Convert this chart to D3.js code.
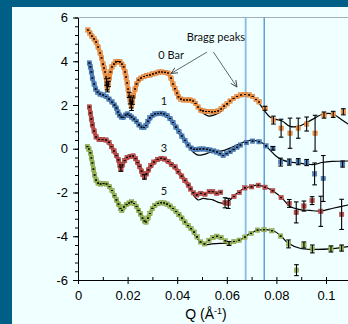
<!DOCTYPE html>
<html><head><meta charset="utf-8">
<script src="https://cdn.jsdelivr.net/npm/d3@7"></script>
<style>html,body{margin:0;padding:0;background:#005f87;overflow:hidden}</style>
</head><body><svg id="c" width="348" height="324"></svg>
<script>
// ---- tick labels / categories ----
const xTicks = [0, 0.02, 0.04, 0.06, 0.08, 0.1];
const xTickLabels = ["0", "0.02", "0.04", "0.06", "0.08", "0.1"];
const yTicks = [-6, -4, -2, 0, 2, 4, 6];
const yTickLabels = ["-6", "-4", "-2", "0", "2", "4", "6"];
const seriesNames = ["0 Bar", "1", "3", "5"];
const seriesColors = ["#F79646", "#4F81BD", "#C0504D", "#9BBB59"];
const braggPeaks = [0.0676, 0.0751];

// ---- series data: [Q, log I (offset), error] ----
const data0Bar = [[0.0040,5.43],[0.0048,5.29],[0.0056,5.15],[0.0065,5.02],[0.0073,4.88],[0.0081,4.65],[0.0089,4.38],[0.0095,4.15],[0.0101,3.87],[0.0105,3.69],[0.0109,3.51],[0.0113,3.28],[0.0115,3.05,0.15],[0.0117,2.87,0.18],[0.0119,2.78,0.18],[0.0123,2.96,0.12],[0.0127,3.23],[0.0131,3.51],[0.0137,3.74],[0.0145,3.87],[0.0153,3.97],[0.0161,3.99],[0.0169,3.97],[0.0177,3.87],[0.0184,3.74],[0.0190,3.51],[0.0194,3.28],[0.0198,3.01],[0.0202,2.73],[0.0206,2.46,0.12],[0.0210,2.23,0.18],[0.0214,2.05,0.18],[0.0216,1.95,0.2],[0.0220,2.18,0.15],[0.0224,2.41],[0.0230,2.73],[0.0236,2.96],[0.0244,3.14],[0.0254,3.23],[0.0266,3.30],[0.0278,3.35],[0.0290,3.37],[0.0302,3.42],[0.0315,3.46],[0.0327,3.51],[0.0339,3.51],[0.0351,3.49],[0.0363,3.46],[0.0375,3.23],[0.0383,2.96],[0.0391,2.75],[0.0399,2.55],[0.0405,2.37],[0.0415,2.27],[0.0427,2.23],[0.0440,2.23],[0.0452,2.23],[0.0464,2.18],[0.0474,2.07],[0.0484,1.91],[0.0494,1.77],[0.0504,1.73],[0.0516,1.70],[0.0528,1.70],[0.0540,1.68],[0.0552,1.70],[0.0565,1.73],[0.0577,1.82],[0.0589,1.95],[0.0601,2.05],[0.0613,2.18],[0.0627,2.30],[0.0641,2.39],[0.0657,2.46],[0.0673,2.48],[0.0690,2.46],[0.0704,2.39],[0.0718,2.25],[0.0730,2.14],[0.0754,1.85,0.09],[0.0788,1.31,0.18],[0.0819,0.94,0.41],[0.0855,0.71,0.69],[0.0888,0.94,0.46],[0.0922,1.13,0.32],[0.0956,0.71,0.82],[0.0992,1.54,0.14],[0.1029,1.57,0.14],[0.1070,1.69,0.14]];
const fit0Bar = [[0.0040,5.43],[0.0089,4.38],[0.0109,3.51],[0.0119,2.73],[0.0129,3.51],[0.0145,3.92],[0.0161,3.99],[0.0177,3.87],[0.0194,3.28],[0.0214,1.95],[0.0230,2.73],[0.0250,3.23],[0.0290,3.37],[0.0331,3.51],[0.0355,3.49],[0.0379,3.14],[0.0399,2.50],[0.0423,2.23],[0.0452,2.23],[0.0476,2.05],[0.0500,1.68],[0.0524,1.50],[0.0548,1.54],[0.0573,1.68],[0.0605,2.05],[0.0637,2.37],[0.0673,2.48],[0.0702,2.41],[0.0726,2.14],[0.0750,1.77],[0.0774,1.45],[0.0798,1.34],[0.0823,1.27],[0.0855,1.02],[0.0887,1.02],[0.0919,1.18],[0.0956,1.41],[0.0988,1.59],[0.1028,1.59],[0.1065,1.31],[0.1089,1.13]];

const data1Bar = [[0.0046,3.92],[0.0050,3.74],[0.0054,3.51],[0.0058,3.23],[0.0065,2.96],[0.0071,2.73],[0.0079,2.59],[0.0089,2.50],[0.0101,2.46],[0.0113,2.39],[0.0125,2.27],[0.0137,2.14],[0.0147,2.00],[0.0155,1.86],[0.0161,1.68],[0.0167,1.54],[0.0175,1.45],[0.0183,1.43],[0.0192,1.54],[0.0200,1.59],[0.0208,1.52],[0.0216,1.45],[0.0226,1.36],[0.0236,1.25],[0.0246,1.09],[0.0256,0.99],[0.0266,0.97],[0.0274,1.06],[0.0282,1.25],[0.0290,1.41],[0.0300,1.52],[0.0310,1.59],[0.0323,1.61],[0.0335,1.62],[0.0347,1.59],[0.0359,1.52],[0.0371,1.38],[0.0383,1.20],[0.0395,0.99],[0.0407,0.79],[0.0419,0.58],[0.0431,0.38],[0.0444,0.17],[0.0456,0.03],[0.0468,-0.03],[0.0480,-0.03],[0.0492,-0.01],[0.0506,-0.01],[0.0520,-0.03],[0.0532,-0.06],[0.0546,-0.10],[0.0560,-0.15],[0.0573,-0.22],[0.0585,-0.31],[0.0599,-0.22],[0.0613,-0.13],[0.0627,-0.03],[0.0641,0.07],[0.0655,0.17],[0.0679,0.28],[0.0704,0.35],[0.0730,0.32],[0.0758,0.13],[0.0786,0.02,0.08],[0.0817,-0.61,0.18],[0.0852,-0.61,0.14],[0.0888,-0.59,0.14],[0.0922,-0.63,0.14],[0.0954,-1.15,0.50],[0.0989,-1.36,1.05],[0.1067,-0.70,0.14]];
const fit1Bar = [[0.0046,3.92],[0.0058,3.23],[0.0077,2.64],[0.0101,2.46],[0.0129,2.23],[0.0153,1.91],[0.0169,1.50],[0.0185,1.43],[0.0198,1.59],[0.0214,1.45],[0.0238,1.22],[0.0262,0.97],[0.0282,1.25],[0.0306,1.59],[0.0335,1.63],[0.0363,1.50],[0.0391,1.04],[0.0419,0.58],[0.0444,0.13],[0.0464,-0.15],[0.0484,-0.29],[0.0508,-0.26],[0.0532,-0.17],[0.0556,-0.13],[0.0581,-0.10],[0.0613,0.03],[0.0653,0.24],[0.0694,0.38],[0.0726,0.35],[0.0750,0.22],[0.0774,-0.06],[0.0798,-0.33],[0.0823,-0.51],[0.0855,-0.61],[0.0887,-0.65],[0.0919,-0.70],[0.0952,-0.72],[0.0984,-0.63],[0.1024,-0.58],[0.1089,-0.56]];

const data3Bar = [[0.0046,1.91],[0.0050,1.63],[0.0054,1.36],[0.0058,1.09],[0.0065,0.81],[0.0073,0.54],[0.0085,0.42],[0.0099,0.42],[0.0113,0.40],[0.0125,0.29],[0.0135,0.10],[0.0145,-0.10],[0.0155,-0.31],[0.0163,-0.51],[0.0169,-0.74],[0.0173,-0.93,0.1],[0.0179,-0.74],[0.0188,-0.54],[0.0198,-0.40],[0.0210,-0.35],[0.0222,-0.33],[0.0232,-0.45],[0.0240,-0.63],[0.0248,-0.81],[0.0256,-1.02],[0.0262,-1.18],[0.0268,-1.29,0.1],[0.0276,-1.15],[0.0284,-0.97],[0.0294,-0.77],[0.0306,-0.61],[0.0321,-0.49],[0.0335,-0.44],[0.0349,-0.47],[0.0363,-0.58],[0.0377,-0.72],[0.0391,-0.83],[0.0404,-1.05],[0.0418,-1.25],[0.0431,-1.45],[0.0445,-1.66],[0.0454,-1.84],[0.0465,-2.01],[0.0479,-2.11],[0.0495,-2.04],[0.0512,-2.08],[0.0529,-1.96],[0.0543,-1.96],[0.0559,-2.04],[0.0575,-1.99],[0.0593,-2.47,0.23],[0.0606,-2.50,0.23],[0.0629,-2.18],[0.0651,-2.00],[0.0673,-1.79],[0.0700,-1.74],[0.0727,-1.67],[0.0754,-1.76],[0.0785,-1.92],[0.0819,-2.23],[0.0852,-2.50,0.18],[0.0880,-2.91,0.48],[0.0911,-2.62,0.23],[0.0944,-2.37,0.18],[0.0979,-2.86,0.69],[0.1063,-3.00,0.69]];
const fit3Bar = [[0.0046,1.91],[0.0058,1.09],[0.0073,0.54],[0.0097,0.42],[0.0121,0.33],[0.0141,-0.01],[0.0161,-0.47],[0.0173,-0.88],[0.0185,-0.56],[0.0206,-0.35],[0.0226,-0.35],[0.0242,-0.65],[0.0256,-1.02],[0.0268,-1.29],[0.0282,-0.99],[0.0302,-0.65],[0.0331,-0.44],[0.0355,-0.51],[0.0379,-0.72],[0.0403,-1.02],[0.0431,-1.45],[0.0452,-1.79],[0.0468,-2.16],[0.0484,-2.34],[0.0504,-2.27],[0.0524,-2.30],[0.0544,-2.34],[0.0569,-2.46],[0.0589,-2.49],[0.0613,-2.34],[0.0637,-2.07],[0.0665,-1.84],[0.0694,-1.73],[0.0726,-1.66],[0.0754,-1.75],[0.0786,-1.93],[0.0819,-2.21],[0.0855,-2.64],[0.0895,-2.78],[0.0935,-2.82],[0.0976,-2.85],[0.1028,-2.72],[0.1089,-2.57]];

const data5Bar = [[0.0038,0.10],[0.0044,-0.01],[0.0050,-0.19],[0.0054,-0.42],[0.0058,-0.65],[0.0062,-0.93],[0.0067,-1.20],[0.0073,-1.43],[0.0081,-1.57],[0.0091,-1.61],[0.0103,-1.59],[0.0115,-1.61],[0.0127,-1.73],[0.0137,-1.91],[0.0147,-2.14],[0.0155,-2.34],[0.0163,-2.53],[0.0171,-2.73],[0.0177,-2.82],[0.0185,-2.66],[0.0196,-2.55],[0.0206,-2.48],[0.0216,-2.43],[0.0226,-2.50],[0.0236,-2.64],[0.0244,-2.82],[0.0252,-2.98],[0.0260,-3.17],[0.0268,-3.30],[0.0274,-3.35],[0.0282,-3.17],[0.0290,-2.96],[0.0300,-2.73],[0.0310,-2.59],[0.0323,-2.50],[0.0335,-2.47],[0.0347,-2.48],[0.0359,-2.53],[0.0371,-2.62],[0.0383,-2.73],[0.0395,-2.87],[0.0407,-3.01],[0.0419,-3.17],[0.0431,-3.35],[0.0444,-3.51],[0.0456,-3.65],[0.0468,-3.81],[0.0480,-4.03],[0.0494,-4.26],[0.0510,-4.35],[0.0528,-4.19],[0.0544,-4.06],[0.0560,-4.00],[0.0577,-4.06],[0.0594,-4.21],[0.0609,-4.33,0.09],[0.0629,-4.24],[0.0650,-4.18],[0.0673,-4.04],[0.0698,-3.87],[0.0724,-3.72],[0.0750,-3.70],[0.0782,-3.75],[0.0817,-3.99],[0.0849,-4.35,0.18],[0.0881,-5.55,0.25],[0.0911,-4.40,0.14],[0.0945,-4.58,0.18],[0.1020,-4.58,0.14],[0.1063,-4.54,0.14]];
const fit5Bar = [[0.0038,0.10],[0.0052,-0.33],[0.0065,-1.11],[0.0081,-1.57],[0.0105,-1.59],[0.0129,-1.75],[0.0149,-2.16],[0.0165,-2.57],[0.0177,-2.82],[0.0194,-2.57],[0.0214,-2.43],[0.0234,-2.62],[0.0254,-3.03],[0.0274,-3.35],[0.0290,-2.98],[0.0310,-2.59],[0.0335,-2.47],[0.0363,-2.57],[0.0391,-2.82],[0.0419,-3.17],[0.0452,-3.62],[0.0480,-4.10],[0.0508,-4.38],[0.0540,-4.35],[0.0573,-4.33],[0.0613,-4.32],[0.0653,-4.17],[0.0694,-3.87],[0.0726,-3.72],[0.0758,-3.70],[0.0790,-3.76],[0.0819,-3.99],[0.0847,-4.31],[0.0895,-4.55],[0.0948,-4.60],[0.1016,-4.58],[0.1089,-4.47]];

const seriesData = [data0Bar, data1Bar, data3Bar, data5Bar];
const seriesFits = [fit0Bar, fit1Bar, fit3Bar, fit5Bar];
// label anchors in data space [Q, I]
const labelPos = [[0.0324, 4.10], [0.0347, 2.02], [0.0347, -0.13], [0.0347, -2.11]];
const denseQmax = 0.046; // below this Q the measured points overlap into a band

// ---- drawing ----
const W = 348, H = 324;
const svg = d3.select("#c");
const x = d3.scaleLinear().domain([0, 0.12]).range([78, 375.6]);
const y = d3.scaleLinear().domain([-6, 6]).range([280, 17.5]);
const FONT = "'Liberation Sans', Arial, sans-serif";

svg.append("rect").attr("width", W).attr("height", H).attr("fill", "#005f87");
svg.append("rect").attr("x", 12).attr("y", 7).attr("width", W).attr("height", H).attr("fill", "#f0ffff");

// plot area top border
svg.append("line").attr("x1", x(0)).attr("x2", W).attr("y1", y(6)).attr("y2", y(6))
  .attr("stroke", "#a3aeb8").attr("stroke-width", 1);

// Bragg peak lines
svg.selectAll(".bragg").data(braggPeaks).enter().append("line")
  .attr("x1", d => x(d)).attr("x2", d => x(d)).attr("y1", y(6)).attr("y2", y(-6))
  .attr("stroke", (d, i) => i === 0 ? "#8dbde6" : "#5f9fd8")
  .attr("stroke-width", (d, i) => i === 0 ? 1.9 : 1.5);

// fits
const line = d3.line().x(d => x(d[0])).y(d => y(d[1])).curve(d3.curveCatmullRom.alpha(0.5));
svg.selectAll(".fit").data(seriesFits).enter().append("path")
  .attr("d", line).attr("fill", "none").attr("stroke", "#000").attr("stroke-width", 1.2);

// markers
const band = d3.line().x(d => x(d[0])).y(d => y(d[1]));
seriesData.forEach((ds, si) => {
  const c = seriesColors[si];
  svg.append("path").datum(ds.filter(d => d[0] <= denseQmax)).attr("d", band)
    .attr("fill", "none").attr("stroke", c).attr("stroke-width", 4)
    .attr("stroke-linejoin", "round").attr("stroke-linecap", "round");
  const g = svg.append("g");
  g.selectAll("rect").data(ds).enter().append("rect")
    .attr("x", d => x(d[0]) - 2.2).attr("y", d => y(d[1]) - 2.2)
    .attr("width", 4.4).attr("height", 4.4)
    .attr("fill", c).attr("stroke", d3.color(c).darker(0.5)).attr("stroke-width", 0.5);
  const eb = svg.append("g").attr("stroke", "#000").attr("stroke-width", 1.1);
  ds.forEach(d => {
    const e = d[2] || 0;
    const cx = x(d[0]);
    const hw = e > 0 ? 2.3 : 0.9;
    const yt = y(d[1] + e), yb = y(d[1] - e);
    if (e > 0) eb.append("line").attr("x1", cx).attr("x2", cx).attr("y1", yt).attr("y2", yb);
    eb.append("line").attr("x1", cx - hw).attr("x2", cx + hw).attr("y1", yt).attr("y2", yt);
    eb.append("line").attr("x1", cx - hw).attr("x2", cx + hw).attr("y1", yb).attr("y2", yb);
  });
});

// axes
const yMinor = d3.range(-6, 6.001, 0.4);
const xMinor = d3.range(0, 0.1201, 0.01);
svg.append("g").attr("transform", `translate(${x(0)},0)`)
  .call(d3.axisLeft(y).tickValues(yMinor).tickSize(3).tickSizeOuter(0).tickFormat(""))
  .call(g => g.select(".domain").remove());
svg.append("g").attr("transform", `translate(0,${y(-6)})`)
  .call(d3.axisBottom(x).tickValues(xMinor).tickSize(-3).tickSizeOuter(0).tickFormat(""))
  .call(g => g.select(".domain").remove());
const ya = svg.append("g").attr("transform", `translate(${x(0)},0)`)
  .call(d3.axisLeft(y).tickValues(yTicks).tickFormat((d, i) => yTickLabels[i]).tickSize(5).tickSizeOuter(0).tickPadding(5));
const xa = svg.append("g").attr("transform", `translate(0,${y(-6)})`)
  .call(d3.axisBottom(x).tickValues(xTicks).tickFormat((d, i) => xTickLabels[i]).tickSize(4).tickSizeOuter(0).tickPadding(6.6));
[ya, xa].forEach(a => {
  a.selectAll("text").attr("font-family", FONT).attr("font-size", 13).attr("fill", "#000");
  a.selectAll("line,path").attr("stroke", "#000");
});
svg.selectAll(".tick line").attr("stroke", "#000");

// axis title
const t = svg.append("text").attr("x", 206).attr("y", 319).attr("text-anchor", "middle")
  .attr("font-family", FONT).attr("font-size", 14).attr("fill", "#000");
t.append("tspan").text("Q (Å");
t.append("tspan").attr("font-size", 9).attr("dy", -5).text("-1");
t.append("tspan").attr("dy", 5).text(")");

// series labels
const LFONT = "Lato, 'Open Sans', sans-serif";
svg.selectAll(".slab").data(seriesNames).enter().append("text")
  .attr("x", (d, i) => x(labelPos[i][0])).attr("y", (d, i) => y(labelPos[i][1]))
  .attr("text-anchor", (d, i) => i === 0 ? "start" : "middle")
  .attr("font-family", LFONT).attr("font-size", 11).attr("fill", "#111").text(d => d);

// Bragg peaks annotation
svg.append("defs").append("marker").attr("id", "ah").attr("viewBox", "0 0 8 8")
  .attr("refX", 7.5).attr("refY", 4).attr("markerWidth", 7).attr("markerHeight", 7)
  .attr("markerUnits", "userSpaceOnUse").attr("orient", "auto")
  .append("path").attr("d", "M0,0.5 L7.5,4 L0,7.5").attr("fill", "none").attr("stroke", "#404040").attr("stroke-width", 1);
svg.append("text").attr("x", x(0.0556)).attr("y", y(4.93)).attr("text-anchor", "middle")
  .attr("font-family", LFONT).attr("font-size", 11).attr("fill", "#111").text("Bragg peaks");
const arrows = [[[0.0520, 4.42], [0.0375, 3.44]], [[0.0546, 4.42], [0.0641, 2.82]]];
svg.selectAll(".arr").data(arrows).enter().append("line")
  .attr("x1", d => x(d[0][0])).attr("y1", d => y(d[0][1]))
  .attr("x2", d => x(d[1][0])).attr("y2", d => y(d[1][1]))
  .attr("stroke", "#404040").attr("stroke-width", 0.8).attr("marker-end", "url(#ah)");
</script></body></html>
